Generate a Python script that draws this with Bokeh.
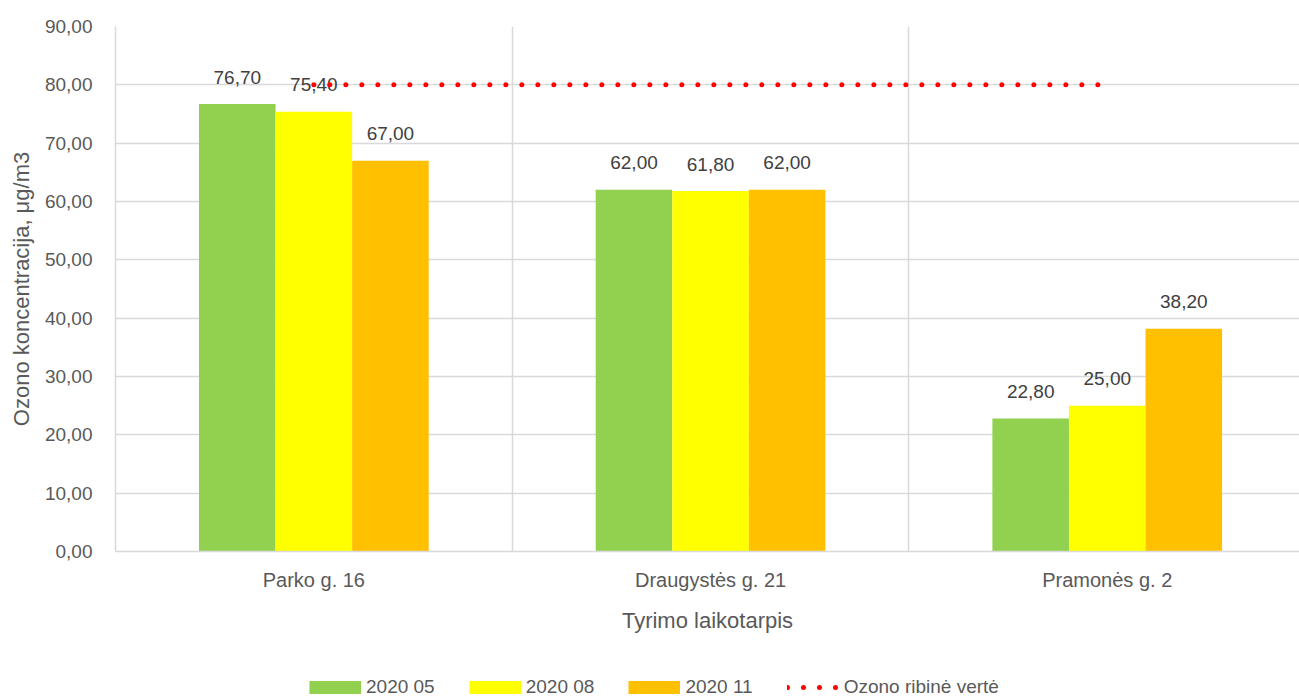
from bokeh.plotting import figure
from bokeh.layouts import column
from bokeh.models import (Range1d, FixedTicker, CustomJSTickFormatter, Legend, LegendItem,
                          ColumnDataSource)
from bokeh.core.properties import value
from bokeh.embed import file_html
from bokeh.resources import INLINE

# ---- data ----
categories = ["Parko g. 16", "Draugystės g. 21", "Pramonės g. 2"]
series_names = ["2020 05", "2020 08", "2020 11"]
v_2020_05 = [76.70, 62.00, 22.80]
v_2020_08 = [75.40, 61.80, 25.00]
v_2020_11 = [67.00, 62.00, 38.20]
threshold_value = 80.0
threshold_label = "Ozono ribinė vertė"
y_ticks = [0, 10, 20, 30, 40, 50, 60, 70, 80, 90]
x_title = "Tyrimo laikotarpis"
y_title = "Ozono koncentracija, μg/m3"

series_values = [v_2020_05, v_2020_08, v_2020_11]
colors = ["#92d050", "#ffff00", "#ffc000"]

FONT = "Liberation Sans"
TICK_COLOR = "#595959"
GRID = "#d9d9d9"
RED = "#ff0000"

W, H_MAIN, H_LEG = 1299, 660, 38
LEFT, TOP, FRAME_BOTTOM = 115, 26, 551
cat_w = 396.7          # px per category in reference
frame_w = W - LEFT
bar_w = 0.193
offsets = [-bar_w, 0.0, bar_w]

p = figure(width=W, height=H_MAIN, output_backend="svg", toolbar_location=None,
           x_range=Range1d(0, frame_w / cat_w), y_range=Range1d(0, 90),
           min_border_left=LEFT, min_border_right=0, min_border_top=TOP,
           min_border_bottom=H_MAIN - FRAME_BOTTOM)
p.outline_line_color = None
p.background_fill_color = "white"
p.border_fill_color = "white"

centers = [i + 0.5 for i in range(len(categories))]

for name, vals, col, off in zip(series_names, series_values, colors, offsets):
    xs = [c + off for c in centers]
    src = ColumnDataSource(dict(x=xs, top=vals,
                                lab=[f"{v:.2f}".replace(".", ",") for v in vals]))
    p.vbar(x="x", top="top", width=bar_w, bottom=0, source=src,
           fill_color=col, line_color=None)
    p.text(x="x", y="top", text="lab", source=src, text_align="center",
           text_baseline="alphabetic", y_offset=-27, text_font=value(FONT),
           text_font_size="19px", text_color="#404040")

p.line(x=[centers[0], centers[-1]], y=[threshold_value, threshold_value],
       line_color=RED, line_width=5, line_dash="0 16", line_cap="round")

# axes
p.yaxis.ticker = FixedTicker(ticks=y_ticks)
p.yaxis.formatter = CustomJSTickFormatter(code="return tick.toFixed(2).replace('.', ',');")
p.xaxis.ticker = FixedTicker(ticks=centers)
p.xaxis.major_label_overrides = {c: n for c, n in zip(centers, categories)}

for ax in (p.xaxis[0], p.yaxis[0]):
    ax.axis_line_color = GRID
    ax.axis_line_width = 1.5
    ax.major_tick_line_color = None
    ax.minor_tick_line_color = None
    ax.major_tick_out = 0
    ax.major_tick_in = 0
    ax.minor_tick_out = 0
    ax.major_label_text_font = FONT
    ax.major_label_text_color = TICK_COLOR
    ax.axis_label_text_font = FONT
    ax.axis_label_text_color = TICK_COLOR
    ax.axis_label_text_font_style = "normal"

p.yaxis.major_label_text_font_size = "19px"
p.xaxis.major_label_text_font_size = "20px"
p.yaxis.axis_label = y_title
p.xaxis.axis_label = x_title
p.yaxis.axis_label_text_font_size = "22px"
p.xaxis.axis_label_text_font_size = "22px"
p.yaxis.major_label_standoff = 23
p.yaxis.axis_label_standoff = 8
p.xaxis.major_label_standoff = 17
p.xaxis.axis_label_standoff = 14

p.ygrid.ticker = FixedTicker(ticks=y_ticks)
p.ygrid.grid_line_color = GRID
p.ygrid.grid_line_width = 1.5
p.xgrid.ticker = FixedTicker(ticks=[1, 2, 3])
p.xgrid.grid_line_color = GRID
p.xgrid.grid_line_width = 1.5

# ---- legend strip (separate figure under the chart; its frame is aligned with the chart's) ----
lg = figure(width=W, height=H_LEG, output_backend="svg", toolbar_location=None,
            x_axis_type=None, y_axis_type=None, x_range=Range1d(0, 1), y_range=Range1d(0, 1),
            min_border=0)
lg.outline_line_color = None
lg.grid.visible = False
# off-screen proxy glyphs that only supply the legend swatches (thick butt lines = full swatches)
leg_renderers = [lg.line(x=[-5, -4], y=[-5, -5], line_color=c, line_width=13, line_cap="butt")
                 for c in colors]
leg_line = lg.line(x=[-5, -4], y=[-5, -5], line_color=RED, line_width=5, line_dash="0 16",
                   line_cap="round")
items = [LegendItem(label=n, renderers=[r]) for n, r in zip(series_names, leg_renderers)]
items.append(LegendItem(label=threshold_label, renderers=[leg_line]))
legend = Legend(items=items, orientation="horizontal", location=(194, 0),
                glyph_width=52, glyph_height=14, label_standoff=5, spacing=34,
                padding=0, margin=0, border_line_color=None, background_fill_alpha=0,
                label_text_font=FONT, label_text_font_size="19px",
                label_text_color=TICK_COLOR)
lg.add_layout(legend, "center")

layout = column(p, lg, spacing=0)
open("out.html", "w").write(file_html(layout, INLINE))
